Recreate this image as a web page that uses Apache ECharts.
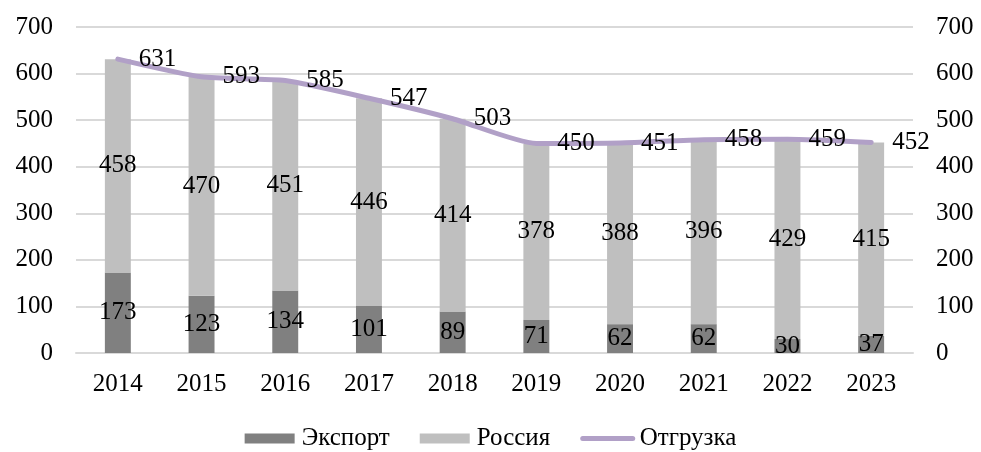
<!DOCTYPE html>
<html>
<head>
<meta charset="utf-8">
<script src="https://cdn.jsdelivr.net/npm/echarts@6/dist/echarts.min.js"></script>
<style>
	html, body { margin: 0; padding: 0; background: #fff; }
	#chart { width: 981px; height: 452px; }
</style>
</head>
<body>
<div id="chart"></div>
<script>
const years = ['2014', '2015', '2016', '2017', '2018', '2019', '2020', '2021', '2022', '2023'];
const exportVals = [173, 123, 134, 101, 89, 71, 62, 62, 30, 37];
const russiaVals = [458, 470, 451, 446, 414, 378, 388, 396, 429, 415];
const shipmentVals = [631, 593, 585, 547, 503, 450, 451, 458, 459, 452];

const font = 'Liberation Serif, Times New Roman, serif';
const fs = 25;
const lineColor = '#b1a0c7';
const chart = echarts.init(document.getElementById('chart'));

const yAxisBase = {
	type: 'value',
	min: 0,
	max: 700,
	interval: 100,
	axisLine: { show: false },
	axisTick: { show: false },
	axisLabel: { color: '#000', fontFamily: font, fontSize: fs, margin: 23 }
};

const option = {
	animation: false,
	grid: { left: 76, right: 68, top: 27, bottom: 99 },
	legend: {
		top: 421,
		itemWidth: 50,
		itemHeight: 10,
		itemGap: 30,
		textStyle: { fontFamily: font, fontSize: fs, color: '#000', padding: [0, 0, 0, 2] },
		data: [
			{ name: 'Экспорт', icon: 'rect' },
			{ name: 'Россия', icon: 'rect' },
			{ name: 'Отгрузка', itemStyle: { opacity: 0 }, lineStyle: { width: 5, color: lineColor, cap: 'round' } }
		]
	},
	xAxis: {
		type: 'category',
		data: years,
		axisLine: { lineStyle: { color: '#d9d9d9', width: 2 } },
		axisTick: { show: false },
		axisLabel: { color: '#000', fontFamily: font, fontSize: fs, margin: 19 }
	},
	yAxis: [
		Object.assign({}, yAxisBase, {
			splitLine: { lineStyle: { color: '#d9d9d9', width: 2 } }
		}),
		Object.assign({}, yAxisBase, {
			position: 'right',
			splitLine: { show: false }
		})
	],
	series: [
		{
			name: 'Экспорт',
			type: 'bar',
			stack: 'total',
			barWidth: '31%',
			itemStyle: { color: '#808080' },
			label: { show: true, position: 'inside', color: '#000', fontFamily: font, fontSize: fs },
			data: exportVals
		},
		{
			name: 'Россия',
			type: 'bar',
			stack: 'total',
			itemStyle: { color: '#bfbfbf' },
			label: { show: true, position: 'inside', color: '#000', fontFamily: font, fontSize: fs },
			data: russiaVals
		},
		{
			name: 'Отгрузка',
			type: 'line',
			smooth: 0.2,
			symbol: 'circle',
			symbolSize: 0,
			showSymbol: true,
			lineStyle: { color: lineColor, width: 5, cap: 'round' },
			itemStyle: { color: lineColor },
			label: { show: true, position: 'right', distance: 21, color: '#000', fontFamily: font, fontSize: fs },
			labelLayout: { hideOverlap: false },
			data: shipmentVals
		}
	]
};

chart.setOption(option);
</script>
</body>
</html>
